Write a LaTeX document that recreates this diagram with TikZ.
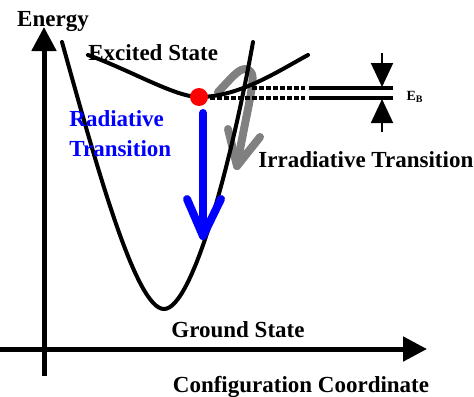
\documentclass[tikz,border=0pt]{standalone}
\usepackage{fontspec}
\setmainfont{Liberation Serif}
\usetikzlibrary{arrows.meta}

\begin{document}
\begin{tikzpicture}[x=0.5pt,y=-0.5pt,
  every node/.style={font=\fontsize{11.5}{15}\selectfont\bfseries, inner sep=0pt},
  curve/.style={line width=2pt, line cap=round},
  axis/.style={line width=2.5pt, -{Triangle[length=12pt,width=12pt]}},
  level/.style={line width=2pt},
  dashlevel/.style={line width=1.6pt, dash pattern=on 2.6pt off 0.9pt},
  gap/.style={line width=1pt, -{Triangle[length=12pt,width=11pt]}},
  transition/.style={line width=4pt, line cap=round, line join=round}]

\useasboundingbox (0,0) rectangle (474,396);

% axes
\draw[axis] (44,376) -- (44,27);
\draw[axis] (0,349) -- (427,349);

% irradiative path (under the curves)
\draw[transition, gray] (218,92) .. controls (232,78) and (244,60) .. (252,74)
  .. controls (255,82) and (245,120) .. (237,166);
\draw[transition, gray] (228,129) -- (237,166) -- (260,137);

% ground state
\draw[curve] (62,42) .. controls (97,168) and (136,309) .. (164,309)
  .. controls (192,309) and (231,165) .. (253,42);

% excited state
\draw[curve] (88,55) .. controls (130,70) and (175,97) .. (199,97)
  .. controls (240,97) and (280,70) .. (308,55);

% levels and E_B
\draw[dashlevel] (210,98) -- (305,98);
\draw[dashlevel] (252,88) -- (305,88);
\draw[level] (309,88) -- (393,88);
\draw[level] (309,98) -- (393,98);
\draw[gap] (382,53) -- (382,87);
\draw[gap] (382,132) -- (382,99);

% radiative transition
\draw[transition, blue] (203,113) -- (203,236);
\draw[transition, blue] (187,199) -- (203,236) -- (221,199);

\fill[red] (199,97) circle[radius=4.5pt];

% labels
\node[anchor=base] (energy) at (53,26) {Energy};
\node[anchor=base west] (excited) at (88,60) {Excited State};
\node[anchor=base] (ground) at (238,337) {Ground State};
\node[anchor=base] (config) at (301,392) {Configuration Coordinate};
\node[anchor=base west, blue, align=left] (radiative) at (69,156) {Radiative\\Transition};
\node[anchor=base west] (irradiative) at (258,167) {Irradiative Transition};
\node[font=\fontsize{7}{8}\selectfont\bfseries] (eb) at (415,97) {E\textsubscript{B}};

\end{tikzpicture}
\end{document}
